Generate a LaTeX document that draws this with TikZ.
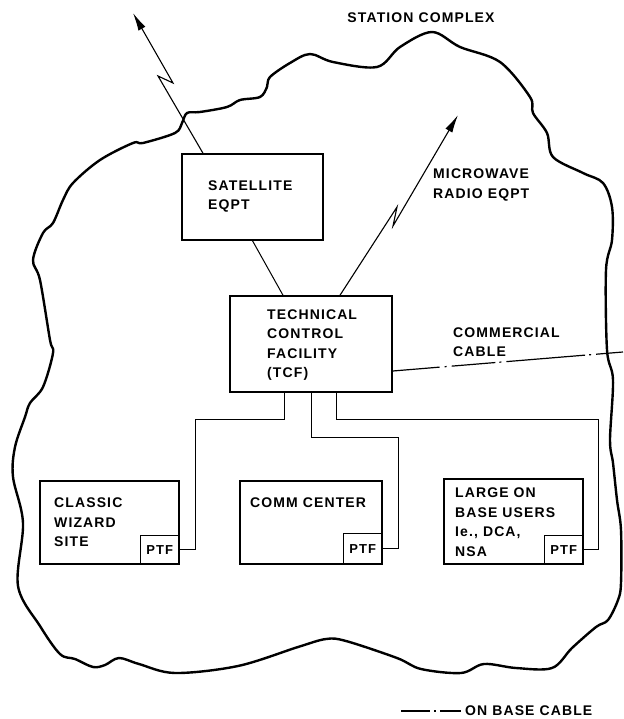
\documentclass[tikz,border=0pt]{standalone}
\usepackage{fontspec}
\setmainfont{Liberation Sans}[LetterSpace=8]
\usepackage{tikz}
\usetikzlibrary{arrows.meta}

\begin{document}
\begin{tikzpicture}[x=1pt, y=-1pt,
    unit/.style={draw, line width=1.5pt, inner sep=0pt},
    ptfbox/.style={draw, line width=1.2pt, inner sep=0pt, minimum width=39pt, font=\bfseries\fontsize{13}{15}\selectfont},
    lbl/.style={font=\bfseries\fontsize{14}{19.5}\selectfont, align=left, inner sep=0pt},
    wire/.style={line width=1pt},
    bolt/.style={line width=1.1pt, -{Latex[length=18pt,width=8pt]}},
    cable/.style={line width=1.2pt, dash pattern=on 47pt off 5pt on 2pt off 5pt on 44pt off 4pt on 2pt off 5pt on 79pt off 4pt on 2pt off 5pt on 40pt}]
  \useasboundingbox (0,0) rectangle (623,719);
  % station complex outline
  \draw[line width=2.4pt, line join=round] plot[smooth cycle, tension=0.55] coordinates {
    (63,200) (73,183) (100,160) (133,143) (143,143) (175,133) (182,123) (187,113)
    (200,112) (227,107) (240,100) (260,97) (267,87) (270,77) (290,63) (310,54)
    (333,62) (377,67) (400,47) (432,32) (460,47) (500,62) (530,97) (533,113)
    (547,133) (553,157) (583,173) (603,183) (612,207) (612,240) (606,270)
    (607,350) (613,380) (610,440) (613,463) (617,500) (621,530) (621,583)
    (618,600) (608,620) (596,627) (572,648) (552,668) (516,668) (484,664)
    (461,673) (421,669) (397,658) (346,641) (326,639) (298,647) (238,666)
    (175,673) (139,664) (119,658) (105,665) (93,667) (75,659) (60,654)
    (40,626) (18,586) (23,523) (13,477) (15,447) (25,417) (30,403) (43,387)
    (53,353) (50,340) (40,280) (33,260) (43,233) (53,223)};
  \node[lbl] (title) at (421,18) {STATION COMPLEX};
  % equipment boxes
  \node[unit, minimum width=141pt, minimum height=86pt] (sat) at (252.5,197) {};
  \node[lbl, anchor=west] (satT) at (208,196.5) {SATELLITE\\EQPT};
  \node[unit, minimum width=162pt, minimum height=96pt] (tcf) at (311,344) {};
  \node[lbl, anchor=west] (tcfT) at (267,345) {TECHNICAL\\CONTROL\\FACILITY\\(TCF)};
  \node[lbl, anchor=west] (mwT) at (433,185) {MICROWAVE\\RADIO EQPT};
  \node[lbl, anchor=west] (comT) at (453,342) {COMMERCIAL\\CABLE};
  % user sites
  \node[unit, minimum width=139pt, minimum height=83pt] (cw) at (109.5,522.5) {};
  \node[ptfbox, minimum height=29pt, anchor=south east] (cwP) at (cw.south east) {PTF};
  \node[lbl, anchor=west] (cwT) at (54,522.5) {CLASSIC\\WIZARD\\SITE};
  \node[unit, minimum width=142pt, minimum height=83pt] (cc) at (311,522.5) {};
  \node[ptfbox, minimum height=31pt, anchor=south east] (ccP) at (cc.south east) {PTF};
  \node[lbl, anchor=west] (ccT) at (250,503) {COMM CENTER};
  \node[unit, minimum width=139pt, minimum height=85pt] (lu) at (513.5,521.5) {};
  \node[ptfbox, minimum height=29pt, anchor=south east] (luP) at (lu.south east) {PTF};
  \node[lbl, anchor=west] (luT) at (455,522) {LARGE ON\\BASE USERS\\Ie., DCA,\\NSA};
  % radio links
  \coordinate (s1) at (158,76);
  \coordinate (s2) at (173,83);
  \coordinate (s3) at (133,13);
  \draw[bolt] ([xshift=-49.5pt]sat.north) -- (s1) -- (s2) -- (s3);
  \coordinate (m1) at (397,207);
  \coordinate (m2) at (393,226);
  \coordinate (m3) at (458,115);
  \draw[bolt] ([xshift=29pt]tcf.north) -- (m1) -- (m2) -- (m3);
  \draw[wire] (sat.south) -- ([xshift=-28pt]tcf.north);
  % cables
  \coordinate (edge) at (623,352);
  \draw[cable] ([yshift=-27pt]tcf.east) -- (edge);
  \coordinate (b1) at (195,419);
  \coordinate (b2) at (398,437);
  \coordinate (b3) at (598,419);
  \draw[wire] ([xshift=-27pt]tcf.south) |- (b1) |- (cwP.east);
  \draw[wire] (tcf.south) |- (b2) |- (ccP.east);
  \draw[wire] ([xshift=25pt]tcf.south) |- (b3) |- (luP.east);
  % legend
  \coordinate (lg1) at (401,711);
  \coordinate (lg2) at (461,711);
  \draw[line width=1.2pt, dash pattern=on 29pt off 4pt on 2pt off 4pt on 21pt] (lg1) -- (lg2);
  \node[lbl, anchor=west] (lgT) at (465,711) {ON BASE CABLE};
\end{tikzpicture}
\end{document}
